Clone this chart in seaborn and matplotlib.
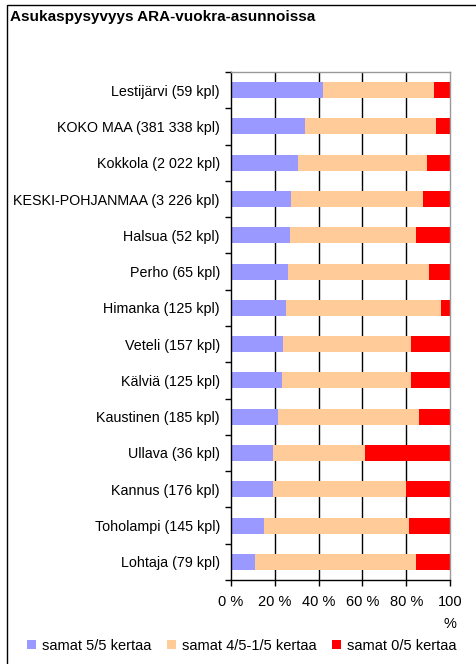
import matplotlib
matplotlib.use("Agg")
import matplotlib.pyplot as plt
from matplotlib.patches import Patch, Rectangle
import seaborn as sns
import pandas as pd
import numpy as np

# Residential stability in ARA rental housing, share of tenants (%)
areas = [
    "Lestijärvi (59 kpl)",
    "KOKO MAA (381 338 kpl)",
    "Kokkola (2 022 kpl)",
    "KESKI-POHJANMAA (3 226 kpl)",
    "Halsua (52 kpl)",
    "Perho (65 kpl)",
    "Himanka (125 kpl)",
    "Veteli (157 kpl)",
    "Kälviä (125 kpl)",
    "Kaustinen (185 kpl)",
    "Ullava (36 kpl)",
    "Kannus (176 kpl)",
    "Toholampi (145 kpl)",
    "Lohtaja (79 kpl)",
]
same_5of5 = [42.1, 33.7, 30.7, 27.6, 27.0, 25.8, 25.0, 23.8, 23.2, 21.4, 19.4, 19.4, 15.0, 11.0]
same_4to1 = [50.6, 59.7, 58.9, 60.0, 57.6, 64.4, 70.9, 58.2, 58.8, 64.4, 41.7, 60.6, 66.4, 73.6]
same_0of5 = [7.3, 6.6, 10.4, 12.4, 15.4, 9.8, 4.1, 18.0, 18.0, 14.2, 38.9, 20.0, 18.6, 15.4]

series_names = ["samat 5/5 kertaa", "samat 4/5-1/5 kertaa", "samat 0/5 kertaa"]
series_colors = ["#9999FF", "#FFCC99", "#FF0000"]
xtick_labels = ["0 %", "20 %", "40 %", "60 %", "80 %", "100\n%"]

df = pd.DataFrame({
    "area": areas,
    "s1": same_5of5,
    "s2": same_4to1,
    "s3": same_0of5,
})
df["c1"] = df["s1"]
df["c2"] = df["s1"] + df["s2"]
df["c3"] = df["s1"] + df["s2"] + df["s3"]

plt.rcParams["font.family"] = ["Liberation Sans", "DejaVu Sans"]
FS = 10.5

fig = plt.figure(figsize=(4.76, 6.64), dpi=100)
ax = fig.add_axes([231 / 476, 1 - 580 / 664, 219 / 476, 508 / 664])

# stacked bars: draw cumulative totals from the longest to the shortest
for col, color in zip(["c3", "c2", "c1"], series_colors[::-1]):
    sns.barplot(data=df, y="area", x=col, orient="h", color=color,
                width=0.44, saturation=1, linewidth=0, ax=ax)

ax.set_xlim(0, 100)
ax.set_ylim(len(areas) - 0.5, -0.5)
ax.set_xlabel("")
ax.set_ylabel("")
ax.set_axisbelow(True)

ax.set_xticks([0, 20, 40, 60, 80, 100])
ax.set_xticklabels(xtick_labels, fontsize=FS, linespacing=1.7)
ax.tick_params(axis="x", direction="out", length=4, width=1, color="black", pad=7)

ax.set_yticks(range(len(areas)))
ax.set_yticklabels(areas, fontsize=10.3)
ax.tick_params(axis="y", which="major", length=0, pad=8)
ax.set_yticks(np.arange(-0.5, len(areas), 1), minor=True)
ax.tick_params(axis="y", which="minor", direction="out", length=4, width=1, color="black")

for v in [20, 40, 60, 80]:
    ax.axvline(v, color="black", linewidth=1, zorder=0)

ax.spines["left"].set_color("black")
ax.spines["bottom"].set_color("black")
ax.spines["top"].set_color("#999999")
ax.spines["right"].set_color("#999999")
for s in ax.spines.values():
    s.set_linewidth(1)

handles = [Patch(facecolor=c, edgecolor="none", label=n) for n, c in zip(series_names, series_colors)]
fig.legend(handles=handles, loc="center", bbox_to_anchor=(0.508, 1 - 646 / 664), ncol=3,
           frameon=False, fontsize=FS, handlelength=0.6, handleheight=0.6,
           handletextpad=0.4, columnspacing=1.1)

fig.text(10 / 476, 1 - 17 / 664, "Asukaspysyvyys ARA-vuokra-asunnoissa",
         fontsize=11, fontweight="bold", ha="left", va="center")

# outer chart frame
fig.patches.append(Rectangle((7 / 476, -0.1), 1.2, 1 - 5 / 664 + 0.1,
                             transform=fig.transFigure, fill=False,
                             edgecolor="black", linewidth=1))

fig.savefig("out.png", dpi=100)
